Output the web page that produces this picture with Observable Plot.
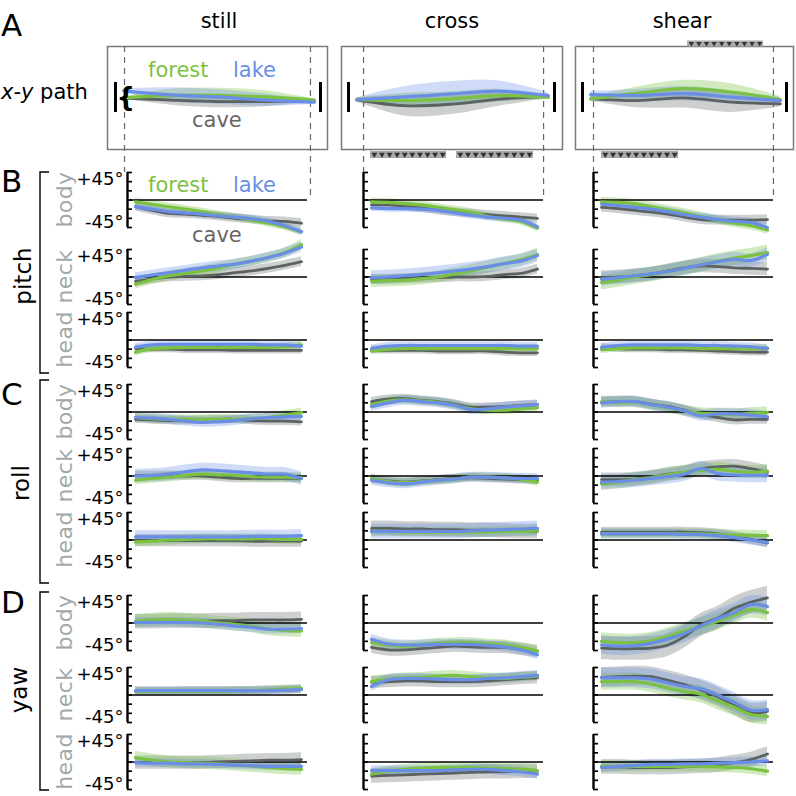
<!DOCTYPE html>
<html><head><meta charset="utf-8">
<script src="https://cdn.jsdelivr.net/npm/d3@7"></script>
<script src="https://cdn.jsdelivr.net/npm/@observablehq/plot@0.6"></script>
<style>
body{margin:0;background:#fff;}
#chart{position:relative;width:796px;height:796px;font-family:"DejaVu Sans",sans-serif;}
#chart svg{position:absolute;overflow:visible;background:transparent !important;max-width:none !important;}
</style></head><body><div id="chart"></div>
<script>
// ---------------- DATA ----------------
const columns = ["still", "cross", "shear"];
const seriesNames = ["forest", "lake", "cave"];
const rowGroups = ["pitch", "roll", "yaw"];
const rowParts = ["body", "neck", "head"];
const tickValues = [-45, -30, -15, 0, 15, 30, 45];
const tickLabels = [{v: 45, label: "+45°"}, {v: -45, label: "-45°"}];
const timeSteps = [0, 0.1, 0.2, 0.3, 0.4, 0.5, 0.6, 0.7, 0.8, 0.9, 1];

// each panel: [forest, lake, cave] angle (deg) over normalized time
const pitch_body_still = [[-3,-7,-11,-15,-19,-24,-28,-33,-38,-44,-52],[-11,-15,-19,-21,-23,-26,-28,-31,-35,-42,-52],[-11,-17,-22,-23,-25,-27,-30,-32,-34,-35,-38]];
const pitch_body_cross = [[-3,-4,-6,-8,-12,-16,-20,-27,-31,-35,-46],[-13,-14,-14,-15,-17,-21,-25,-28,-30,-33,-44],[-8,-8,-10,-13,-17,-20,-22,-24,-26,-28,-30]];
const pitch_body_shear = [[-3,-4,-6,-11,-16,-21,-27,-33,-38,-42,-49],[-7,-9,-12,-15,-19,-24,-28,-32,-35,-37,-45],[-12,-14,-17,-20,-23,-28,-32,-33,-33,-33,-32]];
const pitch_neck_still = [[-12,-4,2,6,10,15,21,26,32,40,53],[-1,3,7,11,15,18,21,26,32,39,49],[-7,-3,0,1,2,4,7,10,14,19,25]];
const pitch_neck_cross = [[-7,-6,-5,-3,0,5,10,16,22,28,37],[-1,0,2,4,7,10,13,17,22,26,35],[-4,-4,-3,-2,-1,0,0,1,4,6,13]];
const pitch_neck_shear = [[-9,-5,0,4,9,14,20,26,31,35,40],[-4,-1,2,5,9,14,20,25,29,27,37],[-1,0,2,5,10,15,18,17,15,14,13]];
const pitch_head_still = [[-20,-14,-13,-12,-12,-12,-12,-12,-12,-11,-8],[-12,-8,-7,-7,-7,-7,-7,-7,-8,-8,-10],[-14,-15,-15,-16,-16,-16,-17,-17,-17,-17,-17]];
const pitch_head_cross = [[-18,-15,-14,-14,-14,-14,-14,-14,-14,-14,-14],[-14,-10,-9,-9,-9,-9,-9,-9,-9,-10,-10],[-16,-17,-17,-17,-18,-18,-18,-18,-20,-21,-21]];
const pitch_head_shear = [[-16,-14,-13,-13,-13,-13,-14,-14,-14,-14,-13],[-12,-9,-8,-8,-8,-8,-9,-9,-10,-11,-14],[-12,-14,-15,-15,-16,-16,-17,-18,-19,-20,-20]];
const roll_body_still = [[-9,-11,-12,-12,-12,-12,-12,-11,-9,-5,-1],[-9,-10,-12,-15,-17,-16,-14,-11,-9,-8,-7],[-12,-13,-14,-14,-13,-12,-12,-14,-15,-15,-16]];
const roll_body_cross = [[12,18,20,18,16,11,5,3,3,5,7],[9,15,19,17,15,11,4,5,8,10,12],[17,21,22,19,17,13,8,8,9,11,12]];
const roll_body_shear = [[17,16,16,12,7,2,-2,-3,-4,-2,-1],[15,17,17,12,8,2,-6,-3,-3,-5,-8],[16,17,17,13,9,3,-4,-9,-13,-12,-12]];
const roll_neck_still = [[-7,-4,-2,1,3,2,1,-1,-2,-2,-3],[0,1,3,7,10,9,7,5,3,3,-4],[1,1,1,0,0,-2,-4,-4,-4,-4,-4]];
const roll_neck_cross = [[-4,-9,-11,-9,-7,-5,-2,-2,-3,-5,-10],[-7,-11,-13,-10,-7,-5,-2,-2,-3,-4,-4],[-5,-8,-10,-8,-6,-4,-3,-4,-5,-6,-7]];
const roll_neck_shear = [[-13,-10,-6,-3,2,6,9,11,8,6,8],[-10,-9,-7,-4,-1,3,12,4,2,1,1],[-6,-6,-5,-2,3,6,12,15,16,12,6]];
const roll_head_still = [[-3,-2,0,1,2,2,2,2,2,1,1],[5,5,5,5,5,5,5,6,6,6,7],[-1,-1,-1,-1,-1,-1,-1,-2,-2,-2,-2]];
const roll_head_cross = [[14,14,13,13,13,13,13,13,14,14,15],[14,14,14,14,14,14,15,16,17,18,19],[19,19,18,18,17,17,16,16,15,14,14]];
const roll_head_shear = [[10,10,10,10,10,10,10,9,8,8,7],[10,10,10,10,10,9,9,7,4,0,-4],[13,13,13,13,13,13,12,10,6,1,-5]];
const yaw_body_still = [[3,5,6,5,3,0,-2,-5,-10,-12,-13],[1,1,1,1,0,-2,-5,-7,-10,-10,-9],[2,2,3,3,3,4,4,5,5,5,6]];
const yaw_body_cross = [[-32,-36,-38,-36,-33,-32,-32,-34,-36,-40,-46],[-27,-34,-36,-36,-35,-35,-35,-37,-39,-44,-52],[-40,-44,-44,-42,-40,-38,-39,-40,-40,-43,-46]];
const yaw_body_shear = [[-30,-32,-32,-29,-22,-13,-6,3,13,22,17],[-36,-38,-37,-33,-26,-17,-5,7,17,30,27],[-41,-42,-42,-41,-36,-22,-3,8,24,34,41]];
const yaw_neck_still = [[6,6,6,6,6,6,7,7,8,10,11],[7,7,7,7,7,7,7,7,7,8,9],[6,6,6,7,7,7,7,7,8,8,9]];
const yaw_neck_cross = [[22,26,28,29,31,32,30,28,27,29,31],[14,25,27,27,26,25,25,27,28,30,32],[21,22,23,23,22,22,22,23,25,27,28]];
const yaw_neck_shear = [[22,22,22,18,11,6,1,-10,-20,-32,-35],[28,28,28,26,20,14,10,0,-12,-25,-24],[29,30,31,30,24,17,8,-3,-17,-29,-27]];
const yaw_head_still = [[7,3,0,-1,-2,-3,-5,-7,-9,-11,-12],[-1,-2,-2,-3,-3,-4,-5,-6,-7,-7,-7],[-1,-1,-1,-1,-1,0,1,2,3,3,4]];
const yaw_head_cross = [[-20,-15,-12,-10,-9,-9,-9,-10,-11,-12,-14],[-14,-14,-14,-14,-14,-13,-12,-12,-14,-16,-20],[-23,-22,-21,-20,-19,-18,-17,-16,-16,-15,-15]];
const yaw_head_shear = [[-7,-7,-7,-7,-7,-7,-7,-8,-9,-11,-15],[-9,-7,-6,-4,-4,-3,-3,-2,-1,0,2],[-8,-8,-9,-9,-9,-8,-7,-5,-1,4,13]];

// band half-widths (deg) per panel row, [forest, lake, cave]
const sd_still = [[6,6,7],[8,8,8],[6,6,6],[7,8,7],[8,11,7],[8,10,10],[11,8,12],[6,6,7],[10,7,11]];
const sd_cross = [[6,6,7],[10,11,8],[6,6,6],[7,8,7],[7,8,7],[8,12,12],[8,8,10],[8,8,10],[8,8,12]];
const sd_shear = [[7,7,8],[12,11,11],[6,6,6],[9,9,8],[11,12,11],[8,8,8],[14,15,19],[14,16,16],[9,8,12]];

// x-y path (lateral offset) along normalized flight distance
const pathTimes = [0.04, 0.27, 0.5, 0.73, 0.97];
const pathEnds = [0, 1];
const path_still = [[0,2.5,2.5,1,-2],[7,3,1,-2,-4],[0,-2,-3.5,-3.5,-3]];
const path_still_sd = [[1,6,7,6,1],[2,7,7,6,2],[1,5,6,5,1]];
const path_cross = [[-1.7,-2.5,-1,2.3,0.6],[-1.7,1,4,6.6,2.3],[-1.7,-7.5,-6,-1,1.6]];
const path_cross_sd = [[2,7,7,6,2],[2,10,12,10,3],[2,10,10,7,2]];
const path_shear = [[-0.8,4.8,9.2,5.8,-1.5],[3.2,2.5,4.2,0.8,-2.5],[-0.8,-2.5,0.2,-4,-5.8]];
const path_shear_sd = [[2,6,8,8,3],[3,6,7,6,3],[2,7,10,10,3]];
const window_still = [0.044, 0.951];
const window_cross = [0.073, 0.947];
const window_shear = [0.054, 0.936];
const perturb_still = [];
const perturb_cross = [{side: "below", from: 0.107, to: 0.476}, {side: "below", from: 0.524, to: 0.898}];
const perturb_shear = [{side: "above", from: 0.515, to: 0.887}, {side: "below", from: 0.093, to: 0.471}];

// ---------------- STYLE / LAYOUT ----------------
const seriesColors = ["#7cc242", "#6a8ee6", "#5c6262"];
const bandOpacity = [0.34, 0.32, 0.3];
const lineWidths = [3.2, 3.2, 2.8];
const drawOrder = [2, 0, 1];
const FONT = "DejaVu Sans";
const colAxisX = [127, 363, 593];
const colEndX = [307, 543, 773];
const rowTop = [172, 249, 312, 384, 448, 512, 595, 667, 734];
const panelH = 55;
const boxLeft = [107, 341, 575], boxRight = [327, 562, 793];
const boxTop = 46, boxH = 103;
const pathInset = [[8, 7], [7, 8], [7, 7]];

const chart = document.getElementById("chart");

// overlay for labels and brackets
const overlay = d3.create("svg").attr("width", 796).attr("height", 796)
  .style("left", "0px").style("top", "0px").attr("font-family", FONT);
chart.append(overlay.node());
function label(txt, x, y, o = {}) {
  const t = overlay.append("text").attr("x", x).attr("y", y).text(txt)
    .attr("font-size", o.size || 21).attr("fill", o.color || "#000")
    .attr("text-anchor", o.anchor || "start");
  if (o.rotate) t.attr("transform", `rotate(-90,${x},${y})`);
  if (o.ls) t.attr("letter-spacing", o.ls);
  return t;
}
[["A", 36], ["B", 192], ["C", 405], ["D", 613]].forEach(([l, y]) => label(l, 1, y, {size: 31}));
[[columns[0], 219], [columns[1], 452], [columns[2], 682]].forEach(([t, x]) => label(t, x, 28, {anchor: "middle", size: 21}));
const xy = overlay.append("text").attr("x", 1).attr("y", 99).attr("font-size", 21);
xy.append("tspan").attr("font-style", "italic").text("x-y");
xy.append("tspan").text(" path");
[[77, 127], [192, 242]].forEach(([y1, y2]) => {
  label(seriesNames[0], 148, y1, {color: seriesColors[0]});
  label(seriesNames[1], 233, y1, {color: seriesColors[1]});
  label(seriesNames[2], 192, y2, {color: "#666"});
});
const zeroY = rowTop.map(t => t + panelH / 2);
rowTop.forEach((t, i) => label(rowParts[i % 3], 72, zeroY[i], {rotate: true, anchor: "middle", color: "#a1a9a9", size: 22, ls: 0.4}));
[[rowGroups[0], 31, 276], [rowGroups[1], 29, 483], [rowGroups[2], 27, 690]].forEach(([t, x, y]) =>
  label(t, x, y, {rotate: true, anchor: "middle", size: 23}));
[[172, 373], [380, 583], [592, 790]].forEach(([a, b]) =>
  overlay.append("path").attr("d", `M49,${a}H40V${b}H49`).attr("fill", "none").attr("stroke", "#000").attr("stroke-width", 1.4));

// helpers
function seriesRows(values, sd, times) {
  return values.map((vals, s) => vals.map((v, i) => {
    const e = Array.isArray(sd[s]) ? sd[s][i] : sd[s];
    return {t: times[i], v, lo: v - e, hi: v + e};
  }));
}
function bandsOnly(rows) {
  const m = [];
  for (const s of drawOrder) m.push(Plot.areaY(rows[s], {x: "t", y1: "lo", y2: "hi", fill: seriesColors[s], fillOpacity: bandOpacity[s], curve: "catmull-rom"}));
  return m;
}
function linesOnly(rows) {
  const m = [];
  for (const s of drawOrder) m.push(Plot.lineY(rows[s], {x: "t", y: "v", stroke: seriesColors[s], strokeWidth: lineWidths[s], curve: "catmull-rom", strokeLinecap: "round"}));
  return m;
}
function place(svg, left, top) {
  svg.style.left = left + "px";
  svg.style.top = top + "px";
  chart.append(svg);
}

// angle panels
const panelData = {
  still: [pitch_body_still, pitch_neck_still, pitch_head_still, roll_body_still, roll_neck_still, roll_head_still, yaw_body_still, yaw_neck_still, yaw_head_still],
  cross: [pitch_body_cross, pitch_neck_cross, pitch_head_cross, roll_body_cross, roll_neck_cross, roll_head_cross, yaw_body_cross, yaw_neck_cross, yaw_head_cross],
  shear: [pitch_body_shear, pitch_neck_shear, pitch_head_shear, roll_body_shear, roll_neck_shear, roll_head_shear, yaw_body_shear, yaw_neck_shear, yaw_head_shear]
};
const panelSd = {still: sd_still, cross: sd_cross, shear: sd_shear};
const xInsetL = 8, xInsetR = 6;
columns.forEach((col, c) => {
  panelData[col].forEach((values, r) => {
    const mL = 50, mR = 16, mT = 16, mB = 16;
    const rows = seriesRows(values, panelSd[col][r], timeSteps);
    const marks = [
      ...bandsOnly(rows),
      Plot.ruleY([0], {stroke: "#000", strokeWidth: 1.3}),
      ...linesOnly(rows),
      Plot.ruleX([0], {dx: -xInsetL, stroke: "#000", strokeWidth: 2.4}),
      Plot.axisY(tickValues, {tickSize: 5, dx: 5, tickFormat: () => "", stroke: "#000", strokeWidth: 1.7})
    ];
    if (c === 0) {
      marks.push(Plot.text(tickLabels.filter(d => d.v > 0), {y: "v", text: "label", frameAnchor: "left", dx: -4, textAnchor: "end", lineAnchor: "top", fontSize: 18, fill: "#000"}));
      marks.push(Plot.text(tickLabels.filter(d => d.v < 0), {y: "v", text: "label", frameAnchor: "left", dx: -4, textAnchor: "end", lineAnchor: "bottom", fontSize: 18, fill: "#000"}));
    }
    const svg = Plot.plot({
      width: colEndX[c] - colAxisX[c] + mL + mR,
      height: panelH + mT + mB,
      marginLeft: mL, marginRight: mR, marginTop: mT, marginBottom: mB,
      x: {domain: [0, 1], insetLeft: xInsetL, insetRight: xInsetR, axis: null},
      y: {domain: [-45, 45]},
      style: {fontFamily: FONT, background: "transparent", overflow: "visible"},
      marks
    });
    place(svg, colAxisX[c] - mL, rowTop[r] - mT);
  });
});

// x-y path panels
const pathData = {still: [path_still, path_still_sd, window_still, perturb_still], cross: [path_cross, path_cross_sd, window_cross, perturb_cross], shear: [path_shear, path_shear_sd, window_shear, perturb_shear]};
columns.forEach((col, c) => {
  const [values, sd, win, perturb] = pathData[col];
  const mL = 2, mR = 2, mT = 10, mB = 56;
  const rows = seriesRows(values, sd, pathTimes);
  const yDom = [-50, 50];
  const below = perturb.filter(d => d.side === "below");
  const above = perturb.filter(d => d.side === "above");
  const arrows = side => perturb.filter(d => d.side === side).flatMap(d => d3.range(10).map(i => ({x: d.from + (i + 0.5) * (d.to - d.from) / 10})));
  const marks = [
    Plot.frame({stroke: "#7a7a7a", strokeWidth: 1.5}),
    Plot.ruleX([win[0]], {stroke: "#666", strokeWidth: 1.2, strokeDasharray: "6,5", insetBottom: -23}),
    Plot.ruleX([win[1]], {stroke: "#666", strokeWidth: 1.2, strokeDasharray: "6,5", insetBottom: -51}),
    ...bandsOnly(rows),
    ...linesOnly(rows),
    Plot.ruleX(pathEnds, {stroke: "#000", strokeWidth: 3, insetTop: 36, insetBottom: 37}),
    Plot.ruleY(below, {x1: "from", x2: "to", y: () => yDom[0], dy: 5, stroke: "#aaaaaa", strokeWidth: 7}),
    Plot.ruleY(above, {x1: "from", x2: "to", y: () => yDom[1], dy: -3, stroke: "#aaaaaa", strokeWidth: 6}),
    Plot.dot(arrows("below"), {x: "x", y: () => yDom[0], dy: 5, symbol: "triangle", rotate: 180, r: 2.2, fill: "#333", stroke: null}),
    Plot.dot(arrows("above"), {x: "x", y: () => yDom[1], dy: -3, symbol: "triangle", rotate: 180, r: 2, fill: "#333", stroke: null})
  ];
  if (c === 0) marks.push(Plot.text(["{"], {x: () => pathTimes[0], y: () => 0, dx: 2, fontSize: 26, fontWeight: "bold", fill: "#000"}));
  const svg = Plot.plot({
    width: boxRight[c] - boxLeft[c] + mL + mR,
    height: boxH + mT + mB,
    marginLeft: mL, marginRight: mR, marginTop: mT, marginBottom: mB,
    x: {domain: [0, 1], insetLeft: pathInset[c][0], insetRight: pathInset[c][1], axis: null},
    y: {domain: yDom, axis: null},
    style: {fontFamily: FONT, background: "transparent", overflow: "visible"},
    marks
  });
  place(svg, boxLeft[c] - mL, boxTop - mT);
});
</script></body></html>
